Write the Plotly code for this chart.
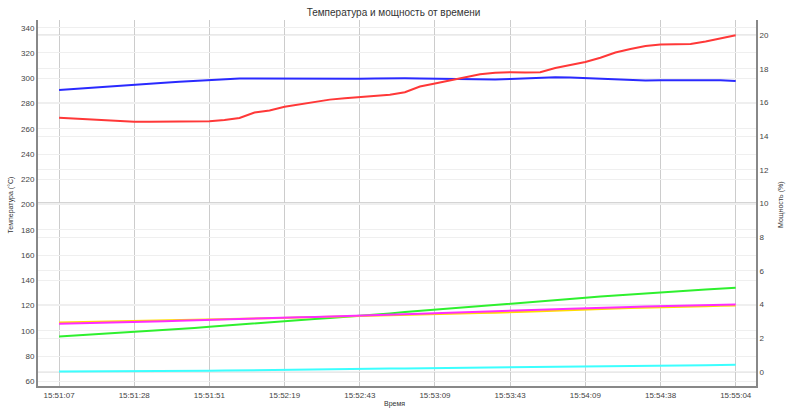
import plotly.graph_objects as go

# ---- data ----
tick_labels = ["15:51:07", "15:51:28", "15:51:51", "15:52:19", "15:52:43",
               "15:53:09", "15:53:43", "15:54:09", "15:54:38", "15:55:04"]
tick_step = 5

temp_blue = [290.7, 291.6, 292.5, 293.4, 294.3, 295.2, 295.8, 296.5, 297.2, 297.9,
             298.6, 299.3, 299.7, 299.7, 299.6, 299.5, 299.5, 299.5, 299.5, 299.5,
             299.5, 299.8, 300.0, 299.9, 299.7, 299.5, 299.0, 298.9, 298.9, 299.0,
             299.4, 299.9, 300.5, 300.7, 300.6, 300.2, 299.7, 298.9, 298.4, 298.2,
             298.3, 298.4, 298.5, 298.5, 298.3, 297.8]

temp_green = [95.5, 96.2, 96.9, 97.5, 98.2, 98.9, 99.7, 100.5, 101.3, 102.2,
              103.2, 104.0, 104.8, 105.8, 106.8, 107.6, 108.4, 109.3, 110.2, 111.0,
              111.9, 112.8, 113.8, 114.8, 115.8, 116.7, 117.7, 118.7, 119.7, 120.7,
              121.7, 122.6, 123.5, 124.4, 125.3, 126.2, 127.1, 128.0, 128.9, 129.8,
              130.6, 131.3, 132.0, 132.7, 133.4, 134.1]

temp_yellow = [106.6, 106.8, 107.0, 107.2, 107.4, 107.6, 107.8, 108.0, 108.3, 108.5,
               108.8, 109.1, 109.4, 109.7, 110.0, 110.3, 110.6, 110.9, 111.3, 111.6,
               111.9, 112.3, 112.6, 113.0, 113.3, 113.7, 113.8, 114.0, 114.2, 114.3,
               114.5, 115.0, 115.5, 116.0, 116.6, 117.1, 117.4, 117.7, 118.0, 118.4,
               118.7, 119.0, 119.3, 119.5, 119.8, 120.1]

temp_magenta = [105.6, 105.8, 106.1, 106.3, 106.6, 106.8, 107.2, 107.6, 108.0, 108.4,
                108.8, 109.1, 109.4, 109.7, 110.0, 110.3, 110.7, 111.0, 111.3, 111.6,
                111.9, 112.3, 112.7, 113.2, 113.6, 114.0, 114.3, 114.6, 115.0, 115.3,
                115.6, 116.1, 116.5, 117.0, 117.4, 117.9, 118.2, 118.5, 118.9, 119.2,
                119.5, 119.8, 120.1, 120.4, 120.6, 120.9]

temp_cyan = [67.8, 67.8, 67.8, 67.8, 67.8, 67.8, 67.9, 68.0, 68.1, 68.2,
             68.3, 68.5, 68.7, 68.9, 69.1, 69.2, 69.4, 69.5, 69.6, 69.8,
             69.9, 70.0, 70.1, 70.2, 70.3, 70.4, 70.5, 70.6, 70.8, 70.9,
             71.0, 71.2, 71.4, 71.6, 71.8, 72.0, 72.1, 72.2, 72.3, 72.4,
             72.5, 72.6, 72.7, 72.8, 73.0, 73.1]

power_red = [15.09, 15.04, 14.99, 14.94, 14.89, 14.85, 14.86, 14.87, 14.88, 14.89,
             14.89, 14.96, 15.08, 15.40, 15.52, 15.75, 15.89, 16.06, 16.17, 16.25,
             16.32, 16.39, 16.46, 16.61, 16.95, 17.13, 17.30, 17.50, 17.68, 17.77,
             17.80, 17.78, 17.80, 18.05, 18.23, 18.40, 18.66, 18.97, 19.18, 19.36,
             19.45, 19.45, 19.48, 19.62, 19.79, 20.00]

x_idx = list(range(len(temp_blue)))
tick_vals = [i * tick_step for i in range(len(tick_labels))]

FONT = "Liberation Sans, Arial, sans-serif"

fig = go.Figure()
left_series = [
    (temp_cyan, "#3cffff"),
    (temp_green, "#2ef02e"),
    (temp_yellow, "#ffdc00"),
    (temp_magenta, "#ff2cff"),
    (temp_blue, "#2a2aff"),
]
for vals, col in left_series:
    fig.add_trace(go.Scatter(x=x_idx, y=vals, mode="lines",
                             line=dict(color=col, width=2), yaxis="y",
                             hoverinfo="skip", showlegend=False))
fig.add_trace(go.Scatter(x=x_idx, y=power_red, mode="lines",
                         line=dict(color="#ff3838", width=2), yaxis="y2",
                         hoverinfo="skip", showlegend=False))

# darker reference lines of the power axis
for v in (0, 10, 20):
    fig.add_shape(type="line", xref="paper", x0=0, x1=1, yref="y2", y0=v, y1=v,
                  line=dict(color="#d4d4d4", width=1.5 if v != 10 else 3),
                  layer="below")

tickfont = dict(family=FONT, size=8, color="#444444")
fig.update_layout(
    width=787, height=409,
    margin=dict(l=38, r=31, t=20, b=23, autoexpand=False),
    paper_bgcolor="white", plot_bgcolor="white",
    title=dict(text="Температура и мощность от времени", x=0.5, xanchor="center",
               y=0.97, yanchor="middle", automargin=False,
               font=dict(family=FONT, size=10, color="#333333")),
    xaxis=dict(range=[-1.4, 46.35], tickmode="array", tickvals=tick_vals,
               ticktext=tick_labels, showgrid=True, gridcolor="#cccccc",
               gridwidth=1, zeroline=False, showline=True, linecolor="#888888",
               linewidth=2, ticks="", automargin=False, tickfont=tickfont),
    yaxis=dict(range=[56.3, 346.1], dtick=20, tick0=0, showgrid=True,
               gridcolor="#efefef", zeroline=False, showline=True,
               linecolor="#888888", linewidth=2, ticks="", automargin=False,
               tickfont=tickfont),
    yaxis2=dict(range=[-0.844, 20.90], dtick=2, tick0=0, overlaying="y",
                side="right", showgrid=True, gridcolor="#efefef", zeroline=False,
                showline=True, linecolor="#888888", linewidth=2, ticks="",
                automargin=False, tickfont=tickfont),
)

fig.add_annotation(text="Время", xref="paper", yref="paper", x=0.497, y=-0.05,
                   xanchor="center", yanchor="middle", showarrow=False,
                   font=dict(family=FONT, size=7, color="#333333"))
fig.add_annotation(text="Температура (°C)", xref="paper", yref="paper",
                   x=-0.038, y=0.495, xanchor="center", yanchor="middle",
                   textangle=-90, showarrow=False,
                   font=dict(family=FONT, size=7, color="#333333"))
fig.add_annotation(text="Мощность (%)", xref="paper", yref="paper",
                   x=1.035, y=0.495, xanchor="center", yanchor="middle",
                   textangle=-90, showarrow=False,
                   font=dict(family=FONT, size=7, color="#333333"))

fig.write_html("out.html",
               config={"displayModeBar": False},
               post_script="document.body.style.margin='0';"
                           "document.body.style.overflow='hidden';")
